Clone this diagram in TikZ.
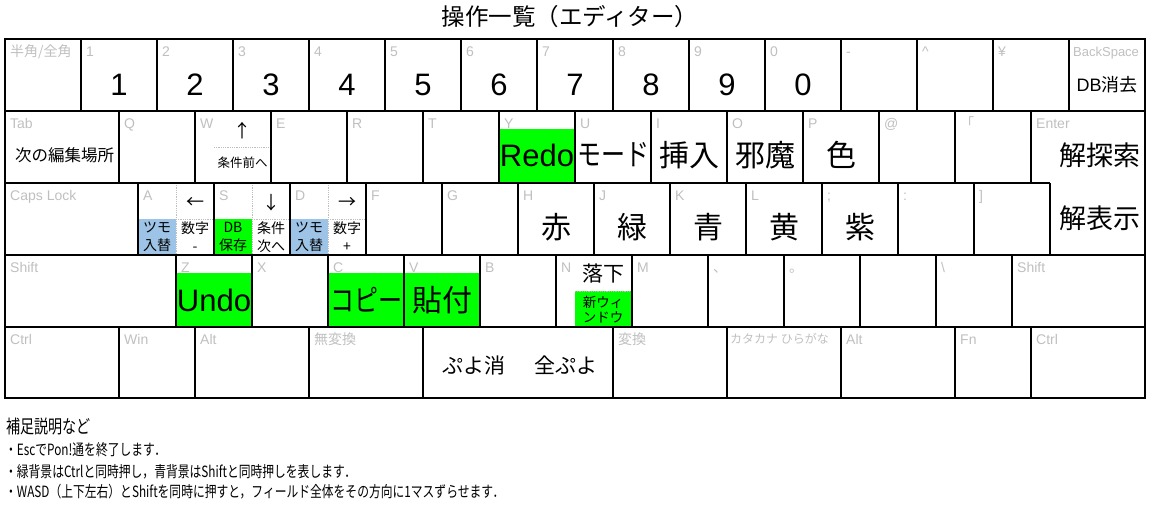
\documentclass[tikz,border=0pt]{standalone}
\usepackage{fontspec}
\setmainfont{Liberation Sans}
\newfontfamily\jp{Noto Sans CJK JP}
\newcommand\fsz[1]{\fontsize{#1}{#1}\selectfont}
\definecolor{gris}{HTML}{BFBFBF}
\definecolor{verde}{HTML}{00FF00}
\definecolor{celeste}{HTML}{9DC3E6}

\begin{document}
\begin{tikzpicture}
  [x=1pt,y=-1pt,
   tecla/.style={line width=2.5pt},
   punteado/.style={gris,densely dotted,line width=0.8pt},
   etiq/.style={anchor=base west,inner sep=0pt,text=gris,font=\fsz{14}},
   grande/.style={inner sep=0pt,font=\fsz{31}},
   kanji/.style={inner sep=0pt,font=\jp\fsz{30}},
   chico/.style={inner sep=0pt,align=center,font=\jp\fontsize{14}{18}\selectfont},
   nota/.style={anchor=west,inner sep=0pt,xscale=0.76,font=\jp\fsz{15.5}}]
\useasboundingbox (0,0) rectangle (1150,509);

  \node (titulo) at (570,17) [font=\jp\fsz{23.5}] {操作一覧（エディター）};

  % Fondos de color (Ctrl = verde, Shift = celeste)
  \fill[verde]    (499,129) rectangle (575,183);
  \fill[celeste]  (138,219) rectangle (176,255);
  \fill[verde]    (214,219) rectangle (252,255);
  \fill[celeste]  (290,219) rectangle (328,255);
  \fill[verde]    (176,273) rectangle (252,327);
  \fill[verde]    (328,273) rectangle (480,327);
  \fill[verde]    (575,291) rectangle (632,327);

  % Divisiones punteadas dentro de las teclas
  \draw[punteado] (214,147) -- (271,147);
  \foreach \x in {176,252,328}
    \draw[punteado] (\x,183) -- (\x,255);
  \foreach \x in {176,252,328}
    \draw[punteado] (\x,219) -- (\x+38,219);
  \draw[punteado] (575,291) -- (632,291);

  % Teclas
  \draw[tecla] (5,39) rectangle (1145,398);
  \draw[tecla] (5,111) -- (1145,111);
  \draw[tecla] (5,183) -- (1050,183);
  \draw[tecla] (5,255) -- (1145,255);
  \draw[tecla] (5,327) -- (1145,327);
  \foreach \x in {81,157,...,1069}
    \draw[tecla] (\x,39) -- (\x,111);
  \foreach \x in {119,195,...,1031}
    \draw[tecla] (\x,111) -- (\x,183);
  \foreach \x in {138,214,...,1050}
    \draw[tecla] (\x,183) -- (\x,255);
  \foreach \x in {176,252,...,1012}
    \draw[tecla] (\x,255) -- (\x,327);
  \foreach \x in {119,195,309,423,613,727,841,955,1031}
    \draw[tecla] (\x,327) -- (\x,398);

  % Nombres de las teclas
  \foreach \x/\t [count=\i] in {5/{\jp 半角/全角},81/1,157/2,233/3,309/4,385/5,461/6,537/7,613/8,689/9,765/0,841/-,917/\textasciicircum,993/¥}
    \node[etiq] (ea\i) at (\x+5,56.5) {\t};
  \node[etiq,font=\fsz{13}] (ea15) at (1073,56.5) {BackSpace};
  \foreach \x/\t [count=\i] in {5/Tab,119/Q,195/W,271/E,347/R,423/T,499/Y,575/U,651/I,727/O,803/P,879/@,955/{\jp 「},1031/Enter}
    \node[etiq] (eb\i) at (\x+5,128.5) {\t};
  \foreach \x/\t [count=\i] in {5/Caps Lock,138/A,214/S,290/D,366/F,442/G,518/H,594/J,670/K,746/L,822/;,898/:,974/]}
    \node[etiq] (ec\i) at (\x+5,200.5) {\t};
  \foreach \x/\t [count=\i] in {5/Shift,176/Z,252/X,328/C,404/V,480/B,556/N,632/M,708/{\jp 、},784/{\jp 。},860//,936/\textbackslash,1012/Shift}
    \node[etiq] (ed\i) at (\x+5,272.5) {\t};
  \foreach \x/\t [count=\i] in {5/Ctrl,119/Win,195/Alt,309/{\jp 無変換},613/{\jp 変換},841/Alt,955/Fn,1031/Ctrl}
    \node[etiq] (ee\i) at (\x+5,344.5) {\t};
  \node[etiq,font=\jp\fsz{12}] (ee9) at (730,343.5) {カタカナ ひらがな};

  % Funciones
  \foreach \d [count=\i] in {1,2,3,4,5,6,7,8,9,0}
    \node[grande] (num\d) at (43+76*\i,84.5) {\d};
  \node (dbborrar) at (1107,85) [inner sep=0pt,font=\fsz{18}] {DB{\jp 消去}};

  \node (siguiente) at (64.5,155.5) [inner sep=0pt,font=\jp\fsz{16.5}] {次の編集場所};
  \node (arriba) at (242.5,131) [inner sep=0pt,font=\jp\fsz{18}] {↑};
  \node (condprev) at (242.5,163) [inner sep=0pt,font=\jp\fsz{12.5}] {条件前へ};
  \node[grande] (redo) at (537,155) {Redo};
  \node[kanji,xscale=0.8] (modo) at (613,155) {モード};
  \node[kanji] (insertar) at (689,155) {挿入};
  \node[kanji] (ojama) at (765,155) {邪魔};
  \node[kanji] (color) at (841,155) {色};
  \node[kanji,font=\jp\fsz{27}] (buscar) at (1100,155) {解探索};

  \node (izq) at (195.5,203) [inner sep=0pt,font=\jp\fsz{18}] {←};
  \node (abajo) at (271,203) [inner sep=0pt,font=\jp\fsz{18}] {↓};
  \node (der) at (347,203) [inner sep=0pt,font=\jp\fsz{18}] {→};
  \node[chico] (tsumoA) at (157,237) {ツモ\\入替};
  \node[chico] (numA) at (195,237) {数字\\-};
  \node[chico] (guardar) at (233,237) {DB\\保存};
  \node[chico] (condsig) at (271,237) {条件\\次へ};
  \node[chico] (tsumoD) at (309,237) {ツモ\\入替};
  \node[chico] (numD) at (347,237) {数字\\+};
  \foreach \x/\t [count=\i] in {556/赤,632/緑,708/青,784/黄,860/紫}
    \node[kanji] (col\i) at (\x,227) {\t};
  \node[kanji,font=\jp\fsz{27}] (mostrar) at (1100,218) {解表示};

  \node[grande] (undo) at (214,300) {Undo};
  \node[kanji,xscale=0.8] (copiar) at (366,300) {コピー};
  \node[kanji] (pegar) at (442,300) {貼付};
  \node (caer) at (603,274) [inner sep=0pt,font=\jp\fsz{21}] {落下};
  \node (ventana) at (603,310) [inner sep=0pt,align=center,font=\jp\fontsize{13.5}{15}\selectfont] {新ウィ\\ンドウ};

  \node (espacio) at (520,365) [inner sep=0pt,font=\jp\fsz{21}] {ぷよ消\hspace{30pt}全ぷよ};

  % Notas
  \node[nota,font=\jp\fsz{18.5}] (notas) at (6,427) {補足説明など};
  \node[nota] (nota1) at (5,450) {・EscでPon!通を終了します．};
  \node[nota] (nota2) at (5,471.5) {・緑背景はCtrlと同時押し，青背景はShiftと同時押しを表します．};
  \node[nota] (nota3) at (5,491.5) {・WASD（上下左右）とShiftを同時に押すと，フィールド全体をその方向に1マスずらせます．};
\end{tikzpicture}
\end{document}
